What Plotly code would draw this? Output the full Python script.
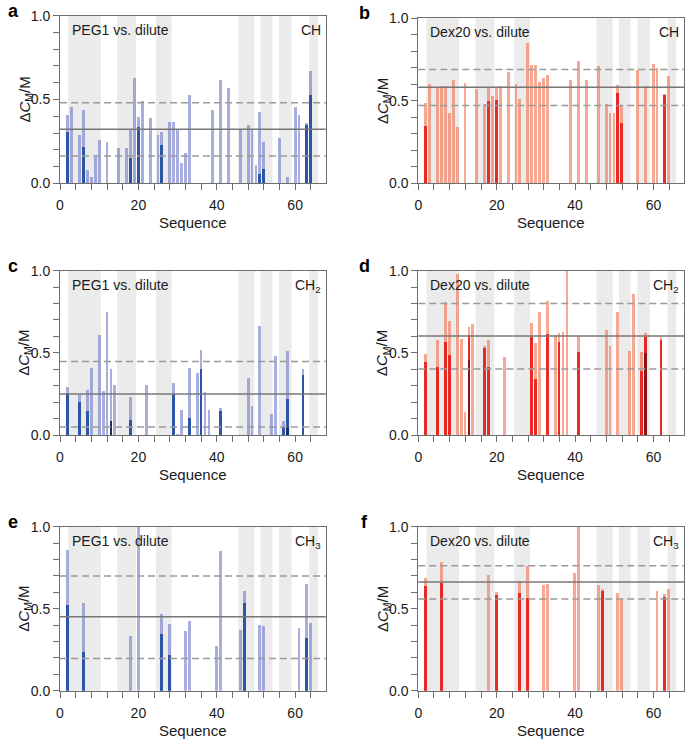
import plotly.graph_objects as go

W, H = 685, 741

# ---------------- data ----------------
bands = [[2.1, 10.4], [14.6, 19.4], [24.5, 28.5], [45.5, 49.6], [51.2, 54.2], [55.9, 59.1], [63.6, 65.8]]

ab_x = [2, 3, 5, 6, 7, 8, 9, 10, 12, 15, 17, 18, 19, 20, 21, 23, 25, 26, 28, 29, 30, 31, 32, 33,
        39, 41, 43, 46, 48, 49, 50, 51, 52, 56, 58, 60, 61, 63, 64]
a_light = [0.41, 0.46, 0.29, 0.44, 0.08, 0.04, 0.16, 0.26, 0.25, 0.21, 0.21, 0.32, 0.63, 0.40, 0.49, 0.39,
           0.29, 0.31, 0.37, 0.37, 0.32, 0.12, 0.18, 0.53, 0.44, 0.62, 0.57, 0.32, 0.35, 0.32, 0.11, 0.43,
           0.25, 0.27, 0.04, 0.46, 0.41, 0.36, 0.67]
a_dark_x = [2, 6, 18, 20, 26, 51, 52, 63, 64]
a_dark = [0.31, 0.22, 0.15, 0.34, 0.23, 0.06, 0.09, 0.35, 0.53]

b_light = [0.485, 0.60, 0.578, 0.586, 0.59, 0.424, 0.626, 0.339, 0.606, 0.57, 0.479, 0.578, 0.525, 0.574,
           0.59, 0.671, 0.602, 0.511, 0.846, 0.715, 0.713, 0.61, 0.638, 0.655, 0.626, 0.739, 0.626, 0.711,
           0.479, 0.422, 0.422, 0.596, 0.473, 0.687, 0.586, 0.723, 0.695, 0.541, 0.646]
b_dark_x = [2, 18, 20, 51, 52, 63]
b_dark = [0.343, 0.499, 0.501, 0.543, 0.366, 0.535]

c_x = [2, 5, 7, 8, 10, 11, 12, 13, 14, 18, 22, 29, 30, 31, 33, 35, 36, 37, 38, 41, 48, 49, 51, 54, 55, 57, 58, 62]
c_light = [0.294, 0.245, 0.278, 0.408, 0.61, 0.268, 0.753, 0.406, 0.304, 0.231, 0.308, 0.316, 0.005, 0.154,
           0.41, 0.381, 0.519, 0.264, 0.152, 0.168, 0.351, 0.176, 0.663, 0.132, 0.481, 0.085, 0.513, 0.404]
c_dark_x = [2, 5, 7, 18, 29, 33, 36, 41, 57, 58, 62]
c_dark = [0.258, 0.2, 0.15, 0.095, 0.249, 0.103, 0.406, 0.148, 0.049, 0.219, 0.365]
c_darkest_x = [13, 58]
c_darkest = [0.087, 0.053]

d_x = [2, 5, 7, 8, 10, 11, 12, 13, 14, 17, 18, 22, 29, 30, 31, 33, 35, 36, 37, 38, 41, 48, 49, 51, 54, 55, 57, 58, 62]
d_light = [0.493, 0.578, 0.813, 0.698, 0.98, 0.586, 0.144, 0.657, 0.675, 0.542, 0.58, 0.475, 0.682, 0.564,
           0.753, 0.817, 0.609, 0.621, 0.627, 1.0, 0.604, 0.639, 0.544, 0.751, 0.511, 0.858, 0.505, 0.625, 0.598]
d_dark_x = [2, 5, 7, 8, 13, 17, 18, 29, 30, 33, 36, 41, 57, 58, 62]
d_dark = [0.448, 0.416, 0.568, 0.489, 0.609, 0.531, 0.418, 0.6, 0.345, 0.615, 0.568, 0.507, 0.389, 0.6, 0.58]
d_darkest_x = [13, 58]
d_darkest = [0.458, 0.501]

ef_x = [2, 6, 18, 20, 26, 28, 32, 33, 40, 41, 46, 47, 51, 52, 61, 63, 64]
e_light = [0.858, 0.535, 0.333, 1.0, 0.47, 0.409, 0.368, 0.427, 0.274, 0.854, 0.37, 0.61, 0.4, 0.396, 0.384, 0.65, 0.413]
e_dark_x = [2, 6, 26, 28, 47, 63]
e_dark = [0.522, 0.24, 0.348, 0.22, 0.535, 0.325]

f_light = [0.689, 0.787, 0.705, 0.602, 0.673, 0.76, 0.648, 0.652, 0.717, 1.0, 0.646, 0.62, 0.596, 0.563, 0.61, 0.589, 0.622]
f_dark_x = [2, 6, 20, 26, 28, 47, 63]
f_dark = [0.64, 0.657, 0.585, 0.598, 0.569, 0.608, 0.573]

# mean, upper, lower reference lines
refs = {
    "a": [0.322, 0.481, 0.163],
    "b": [0.582, 0.689, 0.471],
    "c": [0.249, 0.448, 0.049],
    "d": [0.602, 0.801, 0.402],
    "e": [0.451, 0.699, 0.197],
    "f": [0.663, 0.762, 0.559],
}

labels_left = ["PEG1 vs. dilute", "Dex20 vs. dilute"]
groups = ["CH", "CH<sub>2</sub>", "CH<sub>3</sub>"]
x_ticks = [0, 20, 40, 60]
y_ticks = [0, 0.5, 1.0]
y_ticktext = ["0.0", "0.5", "1.0"]

# ---------------- styling ----------------
FONT = "Liberation Sans, Arial, Helvetica, sans-serif"
BLUE_L = "rgba(110,122,200,0.6)"
BLUE_D = "#2c55a8"
BLUE_DD = "#1c2d62"
RED_L = "rgba(242,122,88,0.65)"
RED_D = "#ea2824"
RED_DD = "#8a1414"
AX = "#6e6e6e"

panels = [
    ("a", ab_x, a_light, a_dark_x, a_dark, [], [], "blue", 0, 0),
    ("b", ab_x, b_light, b_dark_x, b_dark, [], [], "red", 1, 0),
    ("c", c_x, c_light, c_dark_x, c_dark, c_darkest_x, c_darkest, "blue", 0, 1),
    ("d", d_x, d_light, d_dark_x, d_dark, d_darkest_x, d_darkest, "red", 1, 1),
    ("e", ef_x, e_light, e_dark_x, e_dark, [], [], "blue", 0, 2),
    ("f", ef_x, f_light, f_dark_x, f_dark, [], [], "red", 1, 2),
]

# pixel geometry of each panel: (left, right, top, bottom)
geo = {
    "a": (60, 325.7, 15.7, 183.3),
    "b": (418.3, 684.0, 18.3, 183.3),
    "c": (60, 325.7, 270.7, 435.0),
    "d": (418.3, 684.0, 270.7, 435.0),
    "e": (60, 325.7, 526.7, 690.7),
    "f": (418.3, 684.0, 526.7, 690.7),
}


def px(xp):
    return xp / W


def py(yp):
    return 1 - yp / H


fig = go.Figure()
layout = dict(
    width=W, height=H, margin=dict(l=0, r=0, t=0, b=0, autoexpand=False),
    paper_bgcolor="white", plot_bgcolor="white",
    showlegend=False, barmode="overlay", bargap=0,
    font=dict(family=FONT, size=14, color="#1a1a1a"),
)
shapes = []
annotations = []

for i, (key, lx, lv, dx, dv, ddx, ddv, cset, lab, grp) in enumerate(panels):
    n = i + 1
    xa = "x" if n == 1 else f"x{n}"
    ya = "y" if n == 1 else f"y{n}"
    cl, cd, cdd = (BLUE_L, BLUE_D, BLUE_DD) if cset == "blue" else (RED_L, RED_D, RED_DD)
    fig.add_trace(go.Bar(x=lx, y=lv, width=0.72, marker=dict(color=cl, line=dict(width=0)),
                         xaxis=xa, yaxis=ya))
    fig.add_trace(go.Bar(x=dx, y=dv, width=0.72, marker=dict(color=cd, line=dict(width=0)),
                         xaxis=xa, yaxis=ya))
    if ddx:
        fig.add_trace(go.Bar(x=ddx, y=ddv, width=0.72, marker=dict(color=cdd, line=dict(width=0)),
                             xaxis=xa, yaxis=ya))

    L, R, T, B = geo[key]
    xk = "xaxis" if n == 1 else f"xaxis{n}"
    yk = "yaxis" if n == 1 else f"yaxis{n}"
    layout[xk] = dict(
        domain=[px(L), px(R)], anchor=ya, range=[0, 67.8], automargin=False,
        tickvals=x_ticks, ticks="outside", ticklen=6, tickcolor=AX, tickwidth=1,
        minor=dict(dtick=4, tick0=0, ticks="outside", ticklen=6, tickcolor=AX, tickwidth=1),
        showline=True, linecolor=AX, linewidth=1, mirror=True,
        showgrid=False, zeroline=False, tickfont=dict(size=14, family=FONT, color="#1a1a1a"),
        ticklabelstandoff=3,
    )
    layout[yk] = dict(
        domain=[py(B), py(T)], anchor=xa, range=[0, 1.0], automargin=False,
        tickvals=y_ticks, ticktext=y_ticktext, ticks="outside", ticklen=6, tickcolor=AX, tickwidth=1,
        minor=dict(dtick=0.1, tick0=0, ticks="outside", ticklen=6, tickcolor=AX, tickwidth=1),
        showline=True, linecolor=AX, linewidth=1, mirror=True,
        showgrid=False, zeroline=False, tickfont=dict(size=14, family=FONT, color="#1a1a1a"),
    )

    xd = f"{xa} domain"
    yd = f"{ya} domain"
    for b0, b1 in bands:
        shapes.append(dict(type="rect", xref=xa, yref=yd, x0=b0, x1=b1, y0=0, y1=1,
                           fillcolor="#ebebeb", line=dict(width=0), layer="below"))
    m, up, lo = refs[key]
    shapes.append(dict(type="line", xref=xd, yref=ya, x0=0, x1=1, y0=m, y1=m,
                       line=dict(color="#777777", width=1.5), layer="above"))
    for v in (up, lo):
        shapes.append(dict(type="line", xref=xd, yref=ya, x0=0, x1=1, y0=v, y1=v,
                           line=dict(color="#9a9a9a", width=1.5, dash="7px,4px"), layer="above"))

    annotations.append(dict(text=labels_left[lab], xref=xd, yref=yd, x=0, y=1, xanchor="left",
                            yanchor="top", xshift=10, yshift=-4, showarrow=False,
                            font=dict(size=14, family=FONT, color="#1a1a1a")))
    annotations.append(dict(text=groups[grp], xref=xd, yref=yd, x=1, y=1, xanchor="right",
                            yanchor="top", xshift=-3, yshift=-4, showarrow=False,
                            font=dict(size=14, family=FONT, color="#1a1a1a")))
    annotations.append(dict(text="Sequence", xref="paper", yref="paper", x=px((L + R) / 2),
                            y=py(B + 39.5), xanchor="center", yanchor="middle", showarrow=False,
                            font=dict(size=15, family=FONT, color="#1a1a1a")))
    annotations.append(dict(text="Δ<i>C</i><sub>M</sub>/M", xref="paper", yref="paper", x=px(L - 35),
                            y=py((T + B) / 2), xanchor="center", yanchor="middle", textangle=-90,
                            showarrow=False, font=dict(size=15, family=FONT, color="#1a1a1a")))
    letter_x = 13 if lab == 0 else 364
    annotations.append(dict(text=f"<b>{key}</b>", xref="paper", yref="paper", x=px(letter_x),
                            y=py(T - 5), xanchor="center", yanchor="middle", showarrow=False,
                            font=dict(size=18, family=FONT, color="#000000")))

layout["shapes"] = shapes
layout["annotations"] = annotations
fig.update_layout(**layout)
fig.write_html("out.html", config={"displayModeBar": False},
               post_script="document.body.style.margin='0';document.body.style.overflow='hidden';")
